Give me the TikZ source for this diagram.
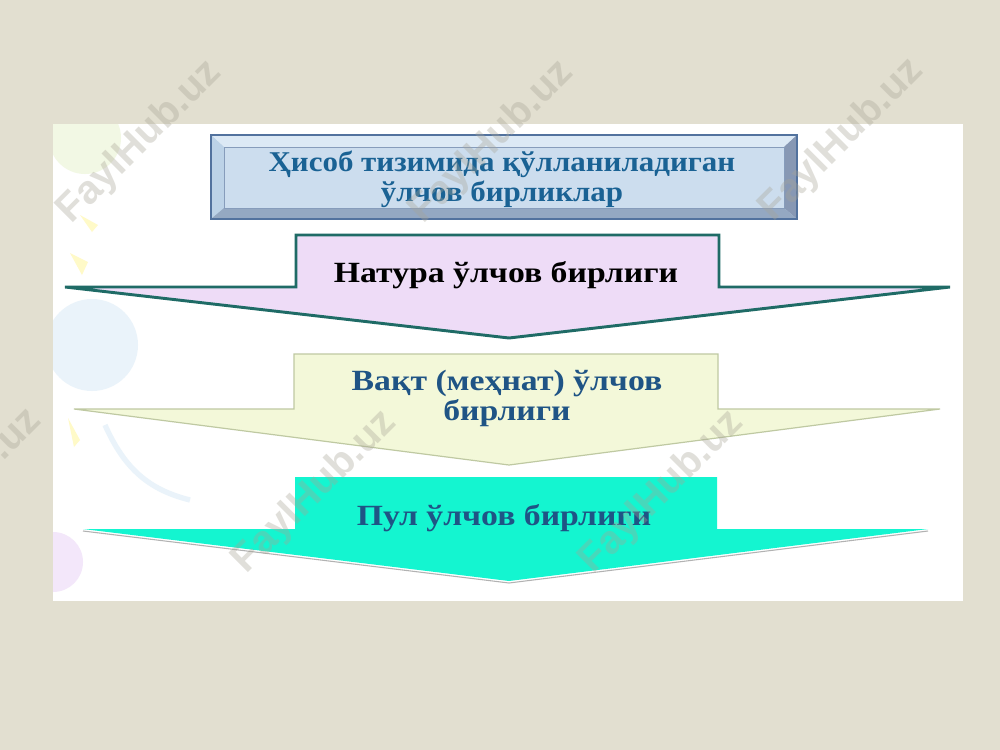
\documentclass[tikz,border=0pt]{standalone}
\usepackage{fontspec}
\setmainfont{Liberation Serif}
\newfontfamily\condserif[FakeStretch=1.15]{Liberation Serif}
\newfontfamily\topserif[FakeStretch=1.08]{Liberation Serif}
\newfontfamily\wmfont{Liberation Sans}
\definecolor{bgcol}{HTML}{E2DFD0}
\definecolor{boxfill}{HTML}{CCDDEE}
\definecolor{bevtop}{HTML}{DCE9F5}
\definecolor{bevleft}{HTML}{BCD2E7}
\definecolor{bevright}{HTML}{8798B4}
\definecolor{bevbot}{HTML}{94A8C2}
\definecolor{boxline}{HTML}{52729E}
\definecolor{toptext}{HTML}{1A6294}
\definecolor{aOneFill}{HTML}{EEDCF7}
\definecolor{aOneLine}{HTML}{1F6B66}
\definecolor{aTwoFill}{HTML}{F3F8D9}
\definecolor{aTwoLine}{HTML}{BFC9A2}
\definecolor{aThreeFill}{HTML}{14F5D0}
\definecolor{bluetext}{HTML}{1F5485}
\definecolor{wmcol}{HTML}{A8A496}
\definecolor{decGreen}{HTML}{F2F8E4}
\definecolor{decBlue}{HTML}{EAF3FA}
\definecolor{decViolet}{HTML}{F3E7FA}
\definecolor{decYellow}{HTML}{FFFAC8}
\begin{document}
\begin{tikzpicture}[x=0.75pt,y=-0.75pt,
  arrowtext/.style={font=\condserif\bfseries\fontsize{22}{22.5}\selectfont, align=center, inner sep=0pt},
  wmark/.style={font=\wmfont\bfseries\fontsize{30}{30}\selectfont, text=wmcol, text opacity=0.35, rotate=45, inner sep=0pt}]
\useasboundingbox (0,0) rectangle (1000,750);
\fill[bgcol] (0,0) rectangle (1000,750);
\fill[white] (53,124) rectangle (963,601);
% faint decoration
\begin{scope}
\clip (53,124) rectangle (963,601);
\fill[decGreen] (85,138) circle (36);
\fill[decBlue] (92,345) circle (46);
\fill[decViolet] (53,562) circle (30);
\draw[decBlue, line width=4pt] (105,425) .. controls (125,470) and (150,490) .. (190,500);
\fill[decYellow] (80,215) -- (98,225) -- (92,232) -- cycle;
\fill[decYellow] (70,253) -- (88,262) -- (82,275) -- cycle;
\fill[decYellow] (68,418) -- (80,440) -- (74,447) -- cycle;
\end{scope}
% top bevel box
\fill[boxfill] (211,135) rectangle (797,219);
\fill[bevtop] (211,135) -- (797,135) -- (784,147) -- (224,147) -- cycle;
\fill[bevleft] (211,135) -- (224,147) -- (224,208) -- (211,219) -- cycle;
\fill[bevright] (797,135) -- (797,219) -- (784,208) -- (784,147) -- cycle;
\fill[bevbot] (211,219) -- (797,219) -- (784,208) -- (224,208) -- cycle;
\draw[boxline, line width=0.8pt] (211,135) rectangle (797,219);
\draw[boxline!70, line width=0.4pt] (224,147) rectangle (784,208);
\node[font=\topserif\bfseries\fontsize{21.5}{22.5}\selectfont, text=toptext, align=center, inner sep=0pt] (title) at (502,179)
  {Ҳисоб тизимида қўлланиладиган\\ўлчов бирликлар};
% arrow 1
\filldraw[fill=aOneFill, draw=aOneLine, line width=2.2pt, line join=miter]
  (296,235) -- (719,235) -- (719,287) -- (950,287) -- (509,338) -- (65,287) -- (296,287) -- cycle;
\node[arrowtext, text=black] (natura) at (506,275) {Натура ўлчов бирлиги};
% arrow 2
\filldraw[fill=aTwoFill, draw=aTwoLine, line width=0.9pt]
  (294,354) -- (718,354) -- (718,409) -- (940,409) -- (509,465) -- (74,409) -- (294,409) -- cycle;
\node[arrowtext, text=bluetext] (vaqt) at (507,398) {Вақт (меҳнат) ўлчов\\бирлиги};
% arrow 3
\draw[gray!60, line width=0.8pt] (928,531) -- (509,583) -- (83,531);
\fill[aThreeFill]
  (295,477) -- (717,477) -- (717,529) -- (928,529) -- (509,581) -- (83,529) -- (295,529) -- cycle;
\node[arrowtext, text=bluetext] (pul) at (504,518) {Пул ўлчов бирлиги};
% watermarks
\node[wmark] (wm1) at (140,142) {FaylHub.uz};
\node[wmark] (wm2) at (492,142) {FaylHub.uz};
\node[wmark] (wm3) at (842,140) {FaylHub.uz};
\node[wmark] (wm4) at (-40,490) {FaylHub.uz};
\node[wmark] (wm5) at (315,492) {FaylHub.uz};
\node[wmark] (wm6) at (662,492) {FaylHub.uz};
\end{tikzpicture}
\end{document}
